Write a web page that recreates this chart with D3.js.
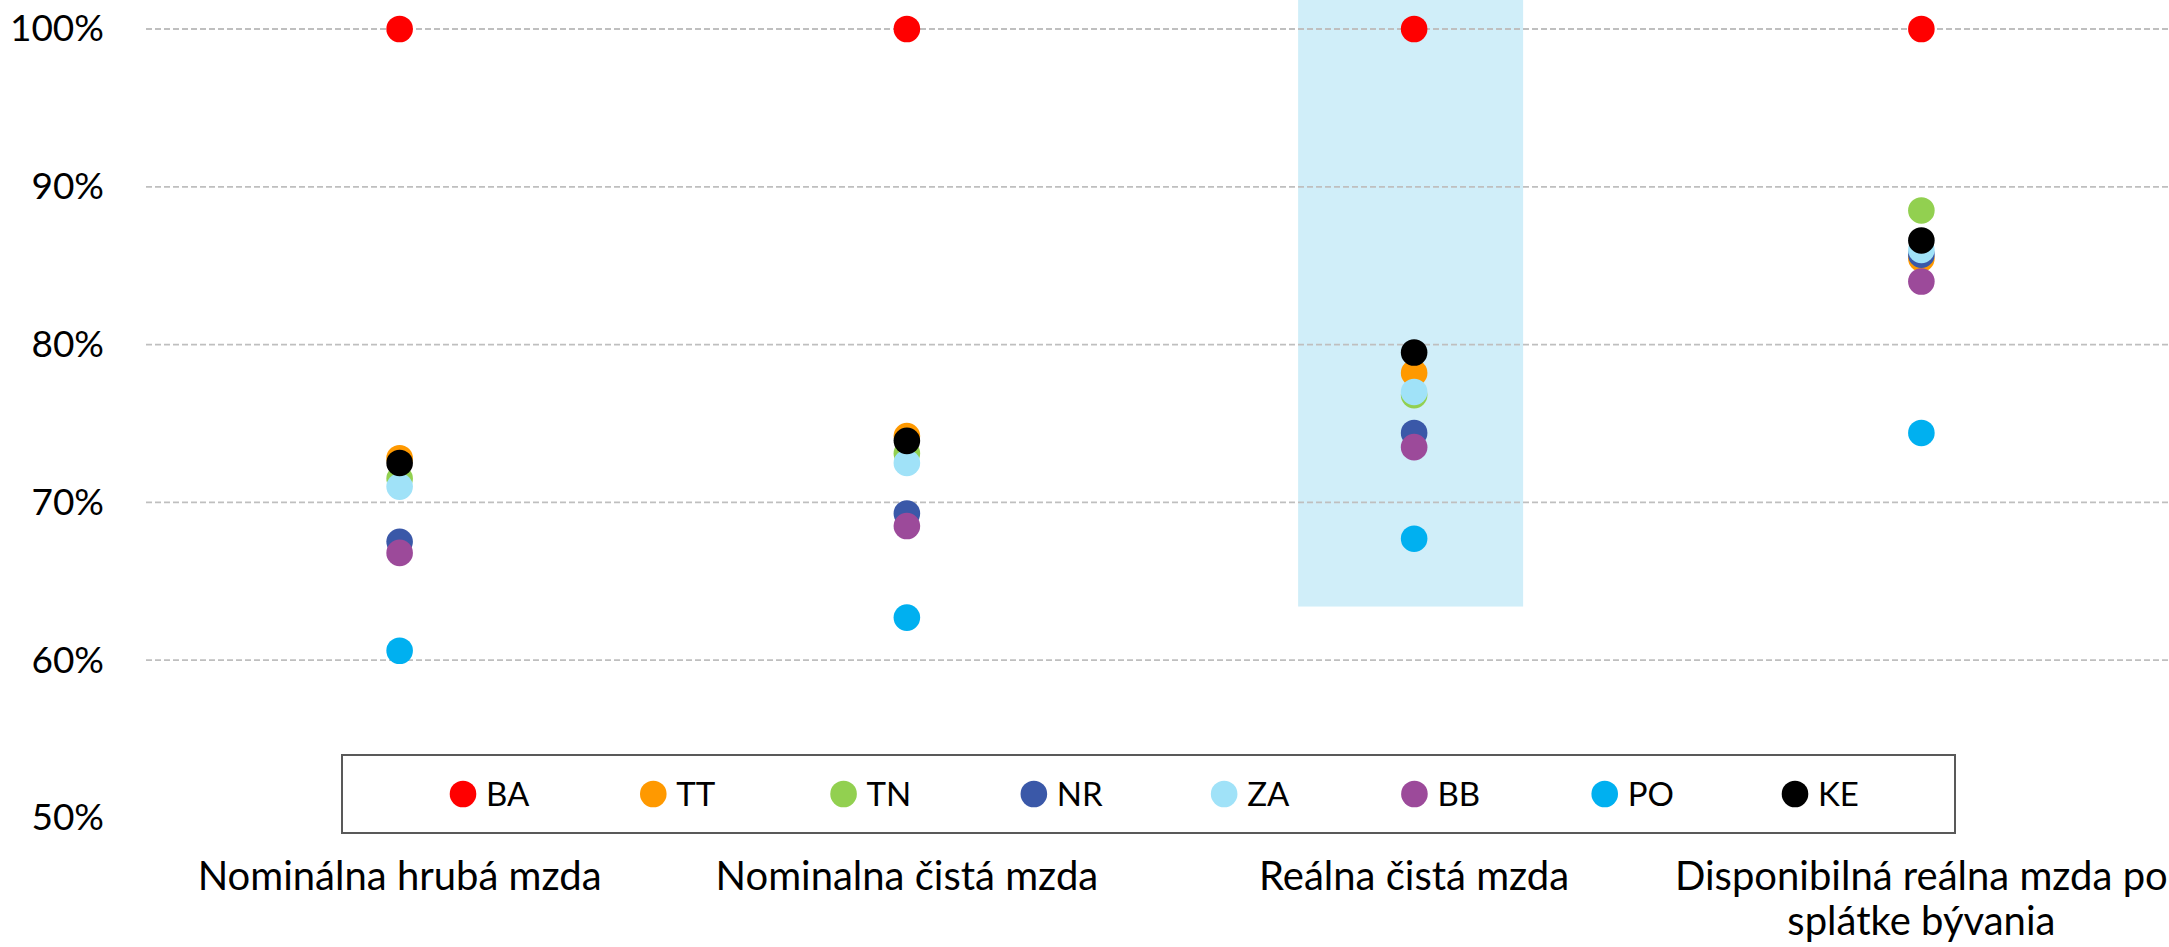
<!DOCTYPE html>
<html>
<head>
<meta charset="utf-8">
<script src="https://cdn.jsdelivr.net/npm/d3@7"></script>
<style>
  html, body { margin: 0; padding: 0; background: #fff; }
  svg { display: block; }
</style>
</head>
<body>
<div id="chart"></div>
<script>
"use strict";

// categories on the x axis
const categories = [
  "Nominálna hrubá mzda",
  "Nominalna čistá mzda",
  "Reálna čistá mzda",
  "Disponibilná reálna mzda po splátke bývania",
];
// wrapped lines of the category labels
const categoryLines = [
  ["Nominálna hrubá mzda"],
  ["Nominalna čistá mzda"],
  ["Reálna čistá mzda"],
  ["Disponibilná reálna mzda po", "splátke bývania"],
];

const regions = ["BA", "TT", "TN", "NR", "ZA", "BB", "PO", "KE"];
const regionColors = ["#ff0000", "#ff9900", "#92d050", "#3a58a8", "#a0e2f8", "#9c4a9a", "#00b0f0", "#000000"];

// values in % of Bratislava, one per category
const BA = [100, 100, 100, 100];
const TT = [72.8, 74.2, 78.2, 85.45];
const TN = [71.5, 73.1, 76.8, 88.5];
const NR = [67.5, 69.3, 74.4, 85.7];
const ZA = [71.0, 72.5, 77.0, 86.0];
const BB = [66.8, 68.5, 73.5, 84.0];
const PO = [60.6, 62.7, 67.7, 74.4];
const KE = [72.5, 73.9, 79.5, 86.6];
const seriesValues = [BA, TT, TN, NR, ZA, BB, PO, KE];

const yTicks = [50, 60, 70, 80, 90, 100];
const gridTicks = [60, 70, 80, 90, 100];

// highlighted column (light blue band)
const highlightCategory = "Reálna čistá mzda";
const highlightFrom = 63.4;

const W = 2169;
const H = 947;
const margin = { top: 29, right: -6, bottom: 129, left: 146 };
const width = W - margin.left - margin.right;
const height = H - margin.top - margin.bottom;

const svg = d3
  .select("#chart")
  .append("svg")
  .attr("width", W)
  .attr("height", H)
  .style("font-family", "Lato, 'Open Sans', sans-serif");

const x = d3.scaleBand().domain(categories).range([0, width]).padding(0);
const y = d3.scaleLinear().domain([50, 100]).range([height, 0]);

const g = svg.append("g").attr("transform", `translate(${margin.left},${margin.top})`);

// highlight band behind everything
const hx = x(highlightCategory) + x.bandwidth() / 2;
g.append("rect")
  .attr("x", hx - 116)
  .attr("width", 225)
  .attr("y", -margin.top)
  .attr("height", y(highlightFrom) + margin.top)
  .attr("fill", "#d0eef9");

// gridlines
g.append("g")
  .selectAll("line")
  .data(gridTicks)
  .enter()
  .append("line")
  .attr("x1", 0)
  .attr("x2", width)
  .attr("y1", (d) => y(d))
  .attr("y2", (d) => y(d))
  .attr("stroke", "#bfbfbf")
  .attr("stroke-width", 1.8)
  .attr("stroke-dasharray", "6,3");

// y axis labels
const yAxis = g
  .append("g")
  .call(d3.axisLeft(y).tickValues(yTicks).tickFormat((d) => d + "%").tickSize(0).tickPadding(42));
yAxis.select(".domain").remove();
yAxis.selectAll("text").attr("font-size", "37px").attr("fill", "#000").attr("font-family", "Lato");

// x axis labels
const xLabels = g
  .append("g")
  .selectAll("text")
  .data(categories)
  .enter()
  .append("text")
  .attr("x", (d) => x(d) + x.bandwidth() / 2)
  .attr("y", height + 72)
  .attr("text-anchor", "middle")
  .attr("font-size", "40px")
  .attr("fill", "#000");
xLabels
  .selectAll("tspan")
  .data((d, i) => categoryLines[i])
  .enter()
  .append("tspan")
  .attr("x", function () {
    return d3.select(this.parentNode).attr("x");
  })
  .attr("dy", (d, i) => (i === 0 ? 0 : 45))
  .text((d) => d);

// points, in series order so KE ends on top
const series = regions.map((r, i) => ({ region: r, color: regionColors[i], values: seriesValues[i] }));
g.selectAll(".series")
  .data(series)
  .enter()
  .append("g")
  .attr("class", "series")
  .attr("fill", (d) => d.color)
  .selectAll("circle")
  .data((d) => d.values.map((v, i) => ({ cat: categories[i], v: v })))
  .enter()
  .append("circle")
  .attr("cx", (d) => x(d.cat) + x.bandwidth() / 2)
  .attr("cy", (d) => y(d.v))
  .attr("r", 13.3);

// legend
const legendBox = { x: 342, y: 755, w: 1613, h: 78 };
const legend = svg.append("g");
legend
  .append("rect")
  .attr("x", legendBox.x)
  .attr("y", legendBox.y)
  .attr("width", legendBox.w)
  .attr("height", legendBox.h)
  .attr("fill", "#fff")
  .attr("stroke", "#595959")
  .attr("stroke-width", 2);

const lx = d3.scalePoint().domain(regions).range([463, 1795]);
const items = legend
  .selectAll(".item")
  .data(series)
  .enter()
  .append("g")
  .attr("class", "item")
  .attr("transform", (d) => `translate(${lx(d.region)},${legendBox.y + 39})`);
items.append("circle").attr("r", 13.3).attr("fill", (d) => d.color);
items
  .append("text")
  .attr("x", 23)
  .attr("dy", "0.35em")
  .attr("font-size", "33px")
  .attr("fill", "#000")
  .text((d) => d.region);
</script>
</body>
</html>
